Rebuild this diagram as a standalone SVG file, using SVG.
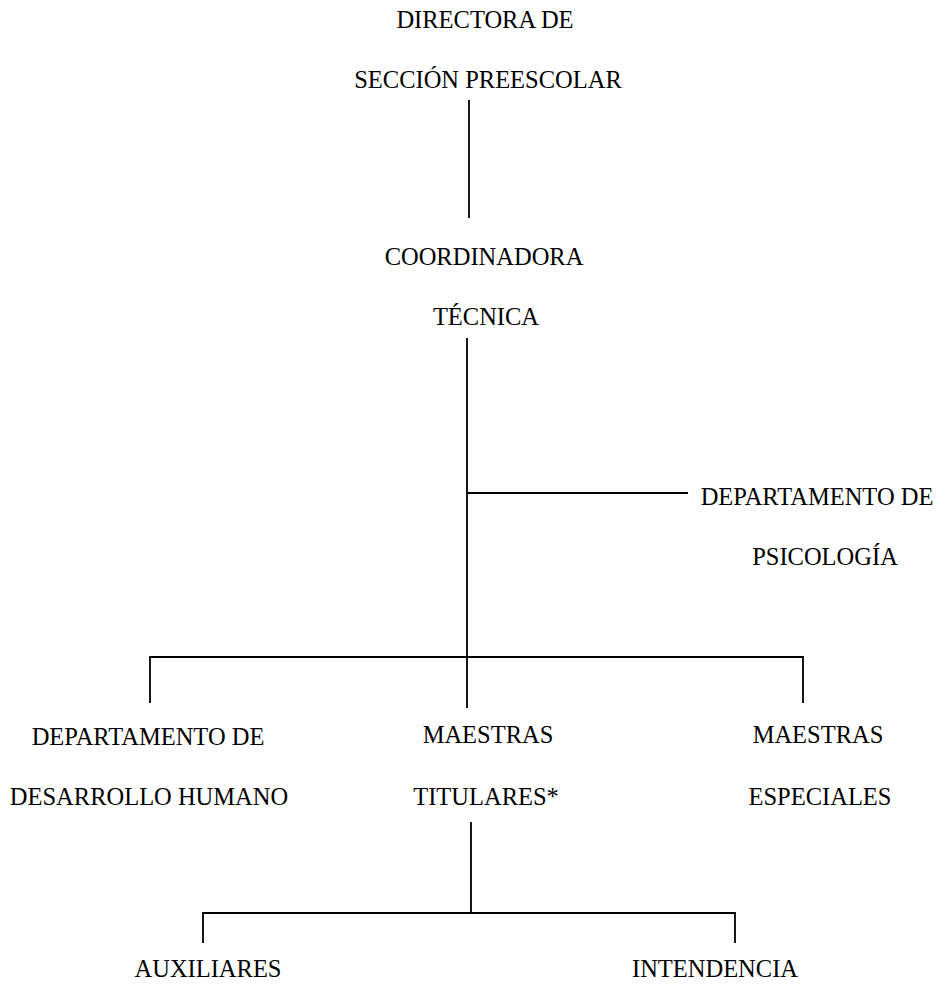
<svg xmlns="http://www.w3.org/2000/svg" width="948" height="987" viewBox="0 0 948 987">
<style>
text{font-family:"Liberation Serif","Times New Roman",serif;font-size:24.5px;fill:#000;text-anchor:middle}
.c{stroke:#000;stroke-width:1.8;fill:none}
</style>
<rect width="948" height="987" fill="#fff"/>
<g id="connectors" class="c">
<path d="M469 100V218"/>
<path d="M467 338V708"/>
<path d="M467 493H688"/>
<path d="M150 703V657H803V703"/>
<path d="M471 822V913"/>
<path d="M203 943V913H735V943"/>
</g>
<g id="directora"><text x="485" y="28">DIRECTORA DE</text><text x="488" y="88">SECCIÓN PREESCOLAR</text></g>
<g id="coordinadora"><text x="484" y="265">COORDINADORA</text><text x="486" y="325">TÉCNICA</text></g>
<g id="psicologia"><text x="817" y="505">DEPARTAMENTO DE</text><text x="825" y="565">PSICOLOGÍA</text></g>
<g id="desarrollo"><text x="148" y="745">DEPARTAMENTO DE</text><text x="149" y="805">DESARROLLO HUMANO</text></g>
<g id="titulares"><text x="488" y="743">MAESTRAS</text><text x="486" y="805">TITULARES*</text></g>
<g id="especiales"><text x="818" y="743">MAESTRAS</text><text x="820" y="805">ESPECIALES</text></g>
<g id="auxiliares"><text x="208" y="977">AUXILIARES</text></g>
<g id="intendencia"><text x="715" y="977">INTENDENCIA</text></g>
</svg>
